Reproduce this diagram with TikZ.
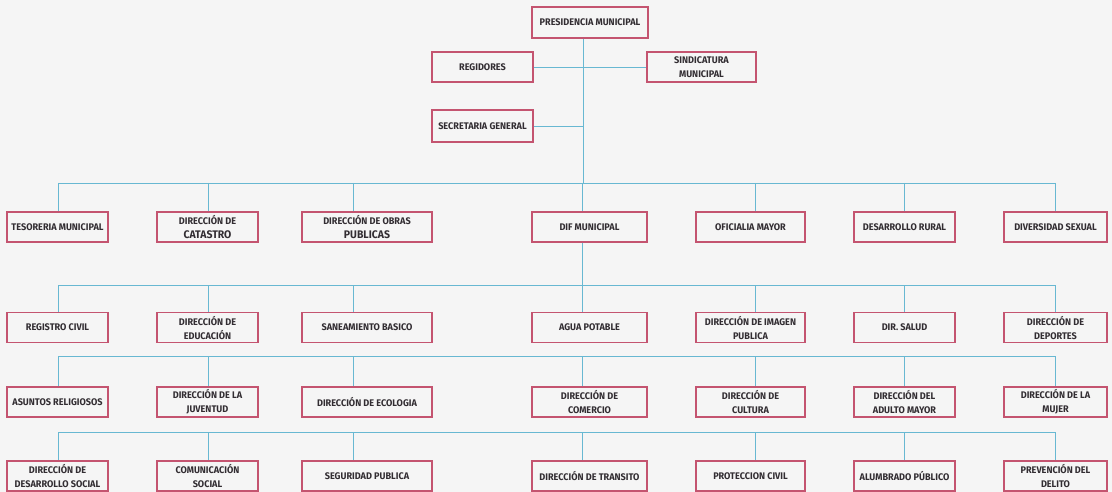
\documentclass[tikz,border=0pt]{standalone}
\usepackage{fontspec}
\newfontfamily\boxfont[FakeStretch=0.95]{Fira Sans}
\definecolor{boxred}{RGB}{196,84,112}
\definecolor{linkblue}{RGB}{104,184,210}
\definecolor{paper}{RGB}{245,245,245}
\definecolor{ink}{RGB}{50,45,50}
\newcommand{\bigline}[1]{{\fontsize{11}{14}\selectfont #1}}
\begin{document}
\begin{tikzpicture}[x=1pt,y=-1pt,
  orgbox/.style={draw=boxred, fill=paper, line width=1.1pt, inner sep=0pt,
    minimum height=30pt, align=center, text=ink,
    font=\boxfont\bfseries\fontsize{9.6}{14}\selectfont},
  link/.style={draw=linkblue, line width=0.9pt}]
\path[fill=paper] (0,0) rectangle (1112,492);
\useasboundingbox (0,0) rectangle (1112,492);

% top
\node[orgbox, minimum width=116pt, minimum height=31pt] (pres) at (590,22.5) {PRESIDENCIA MUNICIPAL};
\node[orgbox, minimum width=101pt] (reg) at (482.5,67) {REGIDORES};
\node[orgbox, minimum width=109pt] (sind) at (701.5,67) {SINDICATURA\\MUNICIPAL};
\node[orgbox, minimum width=101pt, minimum height=32pt] (sec) at (482.5,126) {SECRETARIA GENERAL};

% row 1
\node[orgbox, minimum width=101pt] (n11) at (57.5,227) {TESORERIA MUNICIPAL};
\node[orgbox, minimum width=101pt] (n12) at (207.5,227) {DIRECCIÓN DE\\\bigline{CATASTRO}};
\node[orgbox, minimum width=130pt] (n13) at (367,227) {DIRECCIÓN DE OBRAS\\\bigline{PUBLICAS}};
\node[orgbox, minimum width=115pt] (n14) at (589.5,227) {DIF MUNICIPAL};
\node[orgbox, minimum width=109pt] (n15) at (750.5,227) {OFICIALIA MAYOR};
\node[orgbox, minimum width=101pt] (n16) at (904.5,227) {DESARROLLO RURAL};
\node[orgbox, minimum width=103pt] (n17) at (1055.5,227) {DIVERSIDAD SEXUAL};

% row 2
\node[orgbox, minimum width=101pt] (n21) at (57.5,327.5) {REGISTRO CIVIL};
\node[orgbox, minimum width=101pt] (n22) at (207.5,327.5) {DIRECCIÓN DE\\EDUCACIÓN};
\node[orgbox, minimum width=130pt] (n23) at (367,327.5) {SANEAMIENTO BASICO};
\node[orgbox, minimum width=115pt] (n24) at (589.5,327.5) {AGUA POTABLE};
\node[orgbox, minimum width=109pt] (n25) at (750.5,327.5) {DIRECCIÓN DE IMAGEN\\PUBLICA};
\node[orgbox, minimum width=101pt] (n26) at (904.5,327.5) {DIR. SALUD};
\node[orgbox, minimum width=103pt] (n27) at (1055.5,327.5) {DIRECCIÓN DE\\DEPORTES};

% row 3
\node[orgbox, minimum width=101pt] (n31) at (57.5,402) {ASUNTOS RELIGIOSOS};
\node[orgbox, minimum width=101pt] (n32) at (207.5,402) {DIRECCIÓN DE LA\\JUVENTUD};
\node[orgbox, minimum width=130pt] (n33) at (367,402) {DIRECCIÓN DE ECOLOGIA};
\node[orgbox, minimum width=115pt] (n34) at (589.5,402) {DIRECCIÓN DE\\COMERCIO};
\node[orgbox, minimum width=109pt] (n35) at (750.5,402) {DIRECCIÓN DE\\CULTURA};
\node[orgbox, minimum width=101pt] (n36) at (904.5,402) {DIRECCIÓN DEL\\ADULTO MAYOR};
\node[orgbox, minimum width=103pt] (n37) at (1055.5,402) {DIRECCIÓN DE LA\\MUJER};

% row 4
\node[orgbox, minimum width=101pt] (n41) at (57.5,476) {DIRECCIÓN DE\\DESARROLLO SOCIAL};
\node[orgbox, minimum width=101pt] (n42) at (207.5,476) {COMUNICACIÓN\\SOCIAL};
\node[orgbox, minimum width=130pt] (n43) at (367,476) {SEGURIDAD PUBLICA};
\node[orgbox, minimum width=115pt] (n44) at (589.5,476) {DIRECCIÓN DE TRANSITO};
\node[orgbox, minimum width=109pt] (n45) at (750.5,476) {PROTECCION CIVIL};
\node[orgbox, minimum width=101pt] (n46) at (904.5,476) {ALUMBRADO PÚBLICO};
\node[orgbox, minimum width=103pt] (n47) at (1055.5,476) {PREVENCIÓN DEL\\DELITO};

% connectors at top
\coordinate (trunk) at (583,183);
\draw[link] (pres.south -| trunk) -- (trunk);
\draw[link] (reg.east) -- (sind.west);
\draw[link] (sec.east) -- (sec.east -| trunk);

% buses and drops
\foreach \r/\by in {1/183,2/285,3/356,4/432}{
  \coordinate (busL\r) at (58,\by);
  \coordinate (busR\r) at (1055,\by);
  \draw[link] (busL\r) -- (busR\r);
  \foreach \c/\dx in {1/58,2/208,3/353,4/582,5/755,6/904,7/1055}{
    \coordinate (d\r\c) at (\dx,\by);
    \draw[link] (d\r\c) -- (d\r\c |- n\r\c.north);
  }
}
\draw[link] (n14.south -| d24) -- (d24);
\end{tikzpicture}
\end{document}
